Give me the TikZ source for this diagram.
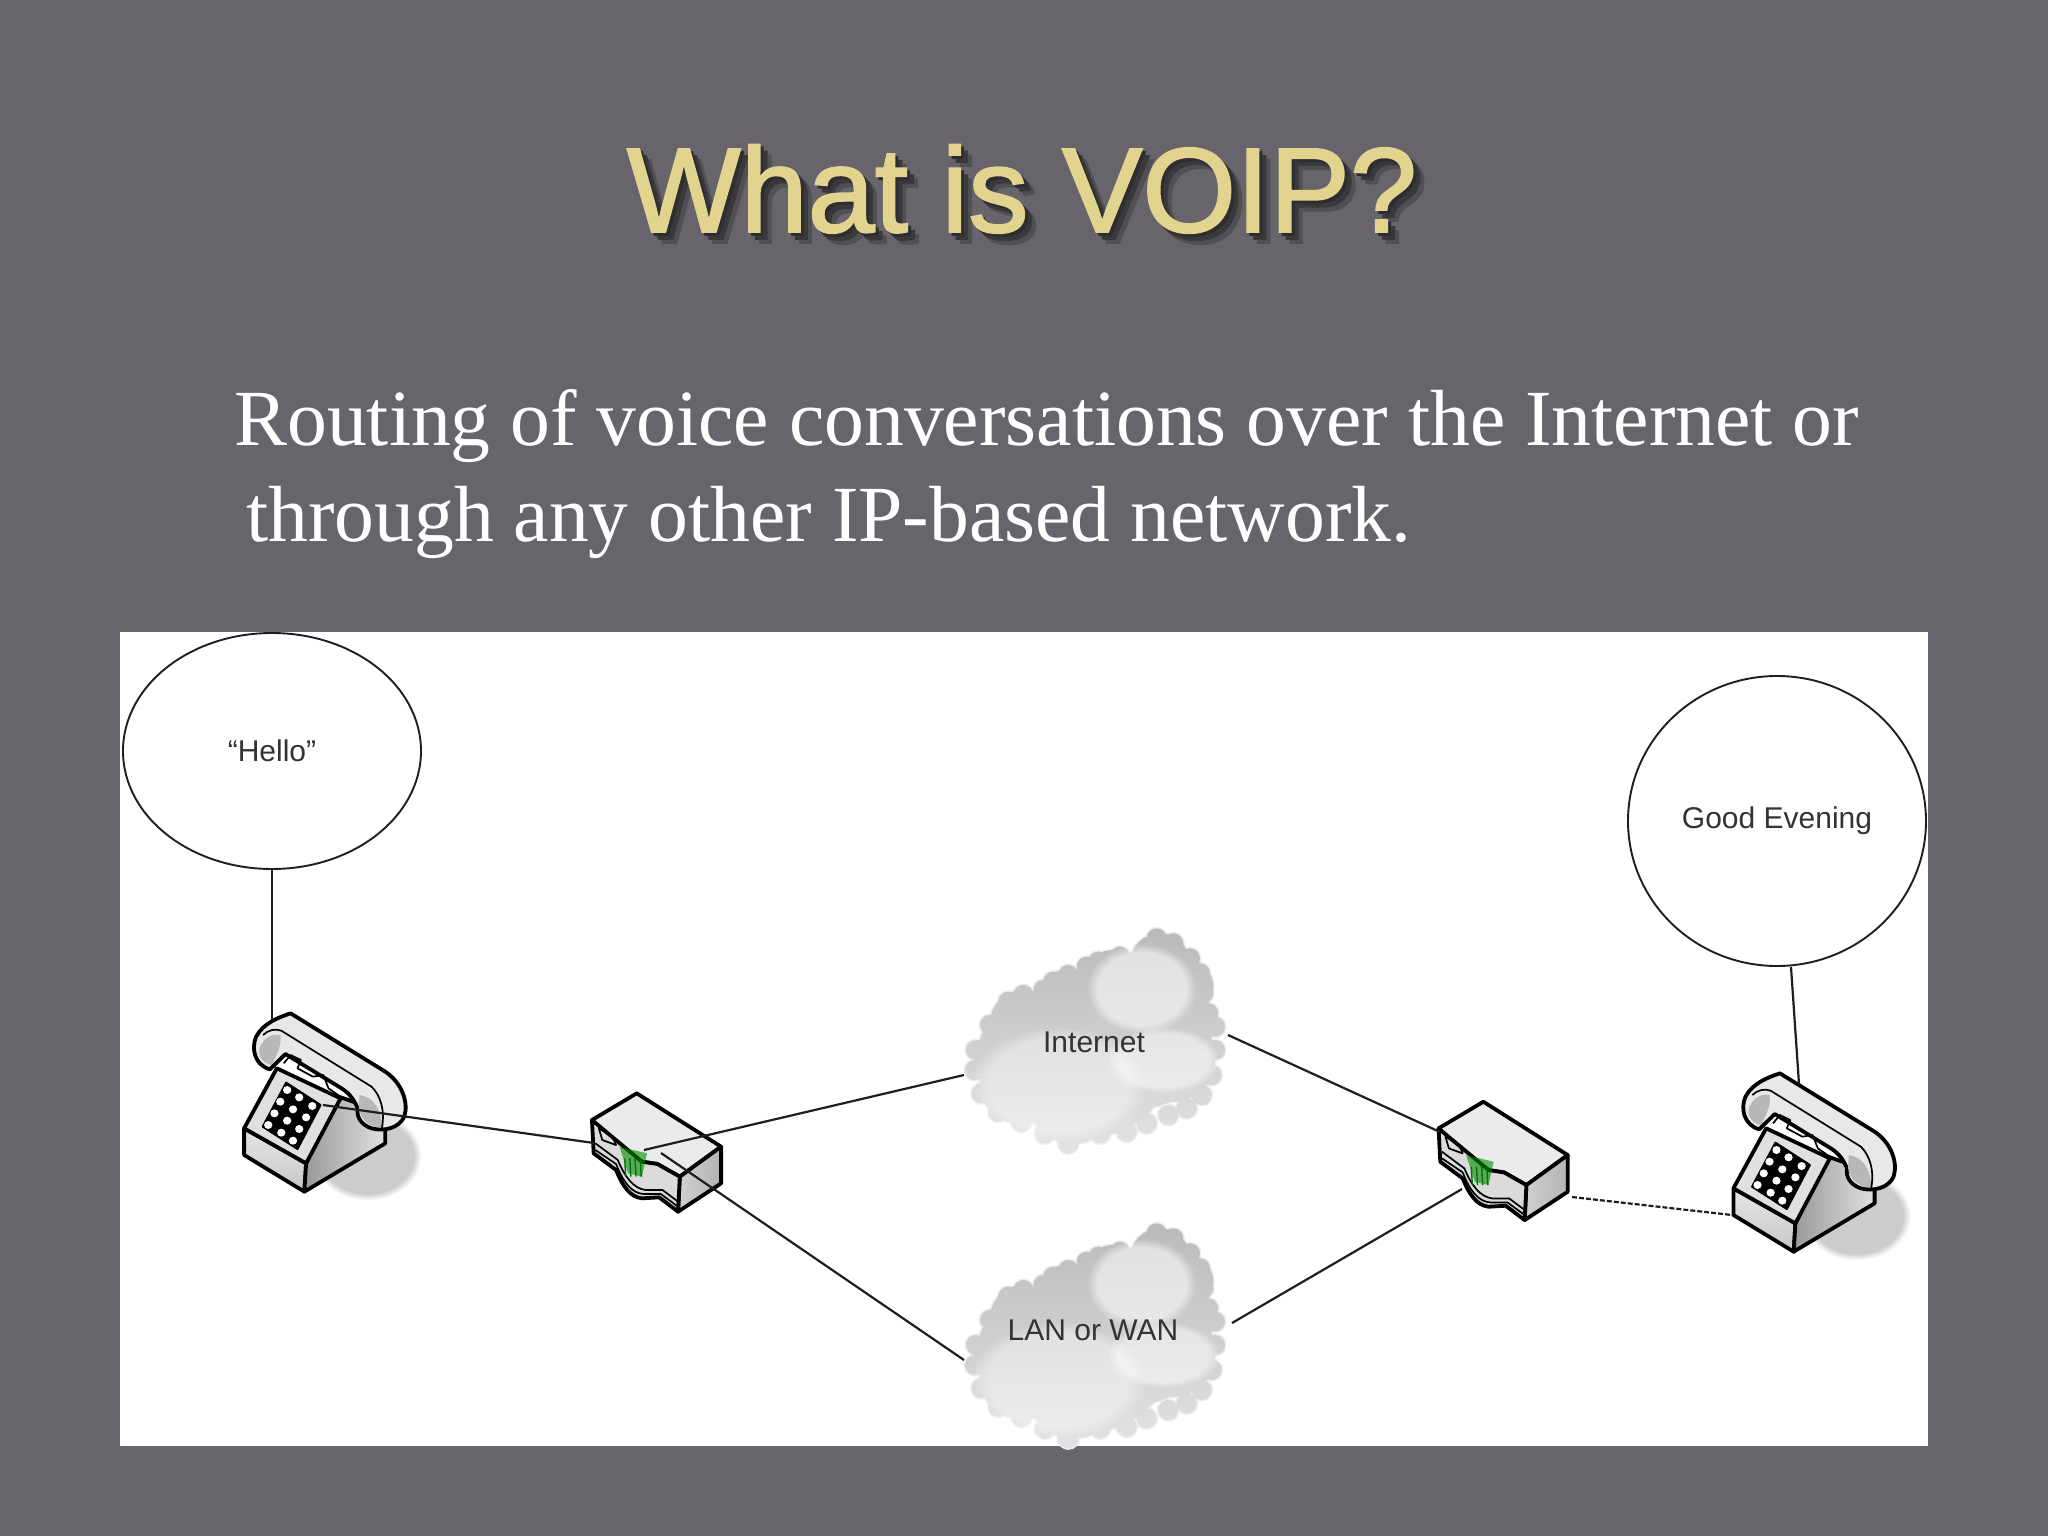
\documentclass[tikz,border=0pt]{standalone}
\usepackage{fontspec}
\setmainfont{Liberation Serif}
\newfontfamily\arialf{Liberation Sans}
\newfontfamily\titlef[FakeBold=1.6]{Liberation Sans}
\usetikzlibrary{shapes.geometric,fadings}
\definecolor{slide}{HTML}{67656B}
\definecolor{gold}{HTML}{E2D38F}
\definecolor{ink}{HTML}{1E1E1E}
\tikzset{
  x=1pt,y=-1pt,
  bubble/.style={ellipse,draw=ink,line width=1.9pt,inner sep=0pt,font=\arialf\fontsize{30}{34}\selectfont,text=black!80},
  cloudlabel/.style={inner sep=0pt,font=\arialf\fontsize{30}{34}\selectfont,text=black!80},
  link/.style={draw=ink,line width=2.2pt},
  dotlink/.style={draw=ink,line width=2.2pt,dash pattern=on 5pt off 2pt},
  heavy/.style={draw=black,line width=3.8pt,line join=round},
  fine/.style={draw=black,line width=1.7pt,line join=round},
  zoomed/.style={x=0.3444pt,y=-0.33333pt},
  cloudzoom/.style={x=0.33333pt,y=-0.33333pt},
}
\newcommand{\phonedraw}{%
  \fill[black!20,path fading=circle with fuzzy edge 15 percent] (270,395) rectangle (585,660);
  \path[heavy,top color=black!10,bottom color=black!22] (70,445) -- (70,525) -- (245,635) -- (250,550) -- cycle;
  \path[heavy,left color=black!40,right color=black!12] (250,550) -- (245,635) -- (480,490) -- (480,440) -- (400,370) -- (345,350) -- cycle;
  \path[heavy,fill=black!12] (70,445) -- (165,265) -- (350,355) -- (250,550) -- cycle;
  \fill[black,line join=round,draw=black,line width=2pt] (192,308) -- (292,375) -- (225,507) -- (124,440) -- cycle;
  \foreach \a/\b in {195/330,230/352,268/378,175/365,212/388,250/412,158/400,195/422,230/447,140/435,178/458,212/482}
    \fill[white] (\a,\b) circle[radius=12];
  \path[heavy,fill=black!9] (145,268) .. controls (100,255) and (90,205) .. (105,170) .. controls (125,130) and (170,112) .. (205,100) -- (480,275) .. controls (530,310) and (548,370) .. (535,410) .. controls (520,445) and (475,455) .. (440,445) .. controls (410,435) and (395,410) .. (400,385) .. controls (385,350) and (370,335) .. (345,320) -- (190,222) -- cycle;
  \fill[black!28] (115,205) .. controls (125,175) and (150,160) .. (175,165) .. controls (180,195) and (165,225) .. (150,255) .. controls (125,250) and (110,230) .. (115,205) -- cycle;
  \fill[black!28] (405,345) .. controls (445,350) and (470,390) .. (470,440) .. controls (440,445) and (410,425) .. (403,385) -- cycle;
  \draw[fine] (125,165) .. controls (140,150) and (160,145) .. (178,152) -- (440,320) .. controls (465,345) and (480,390) .. (470,445);
  \draw[fine] (185,250) -- (205,225) -- (235,240) -- (225,265) -- (270,290) -- (300,285) -- (315,325) -- (350,350);
}
\newcommand{\routerdraw}{%
  \path[heavy,fill=black!8] (1080,420) -- (1210,340) -- (1455,500) -- (1335,590) -- (1270,552) -- (1225,545) -- (1100,445) -- cycle;
  \path[heavy,left color=black!18,right color=black!30] (1335,590) -- (1455,500) -- (1455,610) -- (1330,695) -- cycle;
  \path[heavy,fill=black!14] (1080,420) -- (1085,520) -- (1150,570) .. controls (1170,620) and (1190,650) .. (1225,655) -- (1275,652) -- (1330,695) -- (1335,590) -- (1270,552) -- (1225,545) -- cycle;
  \draw[fine] (1090,490) -- (1155,540) .. controls (1175,590) and (1200,625) .. (1235,630) -- (1285,630) -- (1330,665);
  \draw[fine] (1090,510) -- (1150,552) .. controls (1170,605) and (1195,640) .. (1230,642) -- (1280,642) -- (1330,680);
  \draw[fine] (1100,445) -- (1140,470) -- (1150,495) -- (1110,480) -- cycle;
  \fill[green!55!black,opacity=.6] (1160,500) -- (1240,520) -- (1225,590) -- (1185,580) -- cycle;
  \foreach \a in {1175,1190,1205,1220} \draw[green!45!black,line width=1.4pt] (\a,535) -- (\a+3,590);
}
\newcommand{\cloudcircles}{%
  (450,430) circle[radius=250] (600,380) circle[radius=215] (300,450) circle[radius=190]
  (500,300) circle[radius=140] (660,250) circle[radius=150] (700,450) circle[radius=125]
  (400,560) circle[radius=140] (240,520) circle[radius=120]
  (250,340) circle[radius=100] (380,280) circle[radius=100] (520,210) circle[radius=90]
  (660,160) circle[radius=90] (740,230) circle[radius=80]
  foreach \a/\b in {108/420,150/345,205/275,250/255,310/240,340/215,385/195,440/170,475/155,540/140,610/130,650/85,700/100,750/145,780/190,790/250,805/310,825/350,825/420,815/495,785/555,740/595,685/615,620/640,560/665,480/670,385/700,315/670,245/635,175/605,125/550,105/480}
    {(\a,\b) circle[radius=30]}
}
\newcommand{\cloudblob}{%
  \path[draw=black!7,line width=3pt] \cloudcircles;
  \shade[top color=black!27,bottom color=black!11] \cloudcircles;
  \fill[white,opacity=.55,path fading=circle with fuzzy edge 20 percent] (440,100) rectangle (770,370);
  \fill[white,opacity=.5,path fading=circle with fuzzy edge 20 percent] (500,350) rectangle (840,550);
  \fill[white,opacity=.4,path fading=circle with fuzzy edge 20 percent] (90,350) rectangle (620,700);
}
\newcommand{\titletext}{What is VOIP?}
\begin{document}
\begin{tikzpicture}
\useasboundingbox (0,0) rectangle (2048,1536);
\fill[slide] (0,0) rectangle (2048,1536);
% title with its drop shadow
\node[anchor=base,inner sep=0pt,text=gold,font=\titlef\fontsize{120.5}{130}\selectfont] (title) at (1022,232)
  {\rlap{\kern11pt\raisebox{-11pt}{\textcolor{black!22!slide}{\titletext}}}\rlap{\kern7pt\raisebox{-7pt}{\textcolor{black!45!slide}{\titletext}}}\rlap{\kern3pt\raisebox{-3pt}{\textcolor{black!55!slide}{\titletext}}}\titletext};
% body
\node[anchor=base west,inner sep=0pt,text=white,font=\fontsize{79.6}{84}\selectfont] (lineone) at (234,445) {Routing of voice conversations over the Internet or};
\node[anchor=base west,inner sep=0pt,text=white,font=\fontsize{79.6}{84}\selectfont] (linetwo) at (246,541) {through any other IP-based network.};
% panel
\fill[white] (120,632) rectangle (1928,1446);
\begin{scope}[shift={(940,910)},cloudzoom]\cloudblob\end{scope}
\begin{scope}[shift={(940,1205)},cloudzoom]\cloudblob\end{scope}
\begin{scope}[shift={(220,980)},zoomed]\phonedraw\routerdraw\end{scope}
\begin{scope}[shift={(1709.3,1040)},zoomed]\phonedraw\end{scope}
\begin{scope}[shift={(1066.6,988.4)},zoomed]\routerdraw\end{scope}
\node[bubble,minimum width=298pt,minimum height=236pt] (hello) at (272,751) {“Hello”};
\node[bubble,minimum width=298pt,minimum height=290pt] (good) at (1777,821) {Good Evening};
\node[cloudlabel] (inet) at (1094,1042) {Internet};
\node[cloudlabel] (lan) at (1093,1330) {LAN or WAN};
\coordinate (phoneLtop) at (272,1020);
\coordinate (phoneLa) at (323,1105);
\coordinate (routerLw) at (594,1143);
\coordinate (routerLa) at (644,1150);
\coordinate (inetW) at (964,1075);
\coordinate (routerLb) at (661,1153);
\coordinate (lanW) at (964,1360);
\coordinate (inetE) at (1228,1035);
\coordinate (routerRa) at (1440,1132);
\coordinate (lanE) at (1232,1323);
\coordinate (routerRb) at (1462,1189);
\coordinate (routerRc) at (1572,1197);
\coordinate (phoneRw) at (1732,1215);
\coordinate (goodS) at (1791,967);
\coordinate (phoneRtop) at (1799,1084);
\draw[link] (hello.south) -- (phoneLtop);
\draw[link] (phoneLa) -- (routerLw);
\draw[link] (routerLa) -- (inetW);
\draw[link] (routerLb) -- (lanW);
\draw[link] (inetE) -- (routerRa);
\draw[link] (lanE) -- (routerRb);
\draw[dotlink] (routerRc) -- (phoneRw);
\draw[link] (goodS) -- (phoneRtop);
\end{tikzpicture}
\end{document}
